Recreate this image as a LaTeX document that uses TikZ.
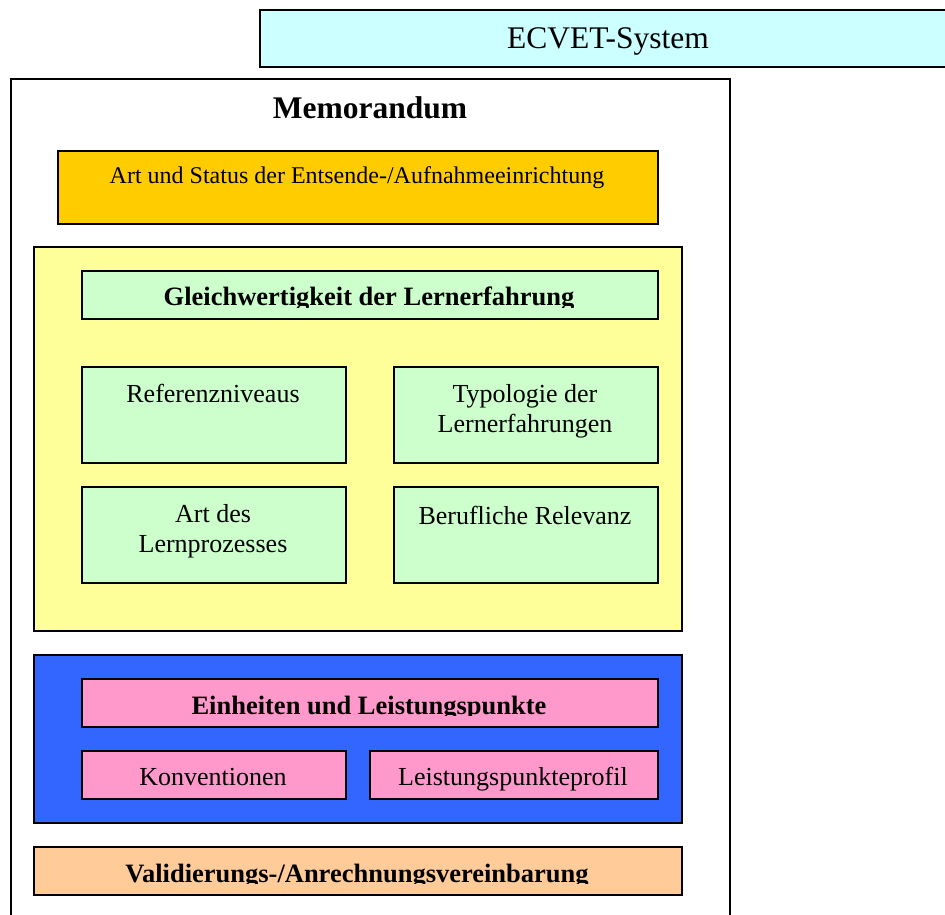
\documentclass[tikz,border=0pt]{standalone}
\usepackage{fontspec}
\setmainfont{Liberation Serif}
\definecolor{ecvetc}{HTML}{CCFFFF}
\definecolor{orangec}{HTML}{FFCC00}
\definecolor{yellowc}{HTML}{FFFF99}
\definecolor{greenc}{HTML}{CCFFCC}
\definecolor{bluec}{HTML}{3366FF}
\definecolor{pinkc}{HTML}{FF99CC}
\definecolor{peachc}{HTML}{FFCC99}
\begin{document}
\begin{tikzpicture}[x=1pt,y=-1pt,
  box/.style={draw=black, line width=1.8pt, inner sep=0pt, anchor=north west},
  txt/.style={inner sep=0pt, anchor=base, align=center, font=\fontsize{26}{30}\selectfont},
  btxt/.style={inner sep=0pt, anchor=base, font=\fontsize{26.5}{30}\selectfont\bfseries}]
\useasboundingbox (0,0) rectangle (945,914);
% top box
\node[box, fill=ecvetc, minimum width=700, minimum height=57] (ecvet) at (259,9) {};
\node[txt, font=\fontsize{31.5}{36}\selectfont] (tecvet) at (608,48) {ECVET-System};
% memorandum frame
\node[box, fill=white, minimum width=719, minimum height=860] (memo) at (10,78) {};
\node[btxt, font=\fontsize{31.5}{36}\selectfont\bfseries] (tmemo) at (370,118) {Memorandum};
% art und status
\node[box, fill=orangec, minimum width=600, minimum height=73] (status) at (57,150) {};
\node[txt, font=\fontsize{24}{28}\selectfont] (tstatus) at (357,183) {Art und Status der Entsende-/Aufnahmeeinrichtung};
% yellow group
\node[box, fill=yellowc, minimum width=648, minimum height=384] (gleich) at (33,246) {};
\node[box, fill=greenc, minimum width=576, minimum height=48] (gleichh) at (81,270) {};
\begin{scope}
  \clip (81,270) rectangle (657,307);
  \node[btxt] (tgleich) at (369,305) {Gleichwertigkeit der Lernerfahrung};
\end{scope}
\node[box, fill=greenc, minimum width=264, minimum height=96] (ref) at (81,366) {};
\node[txt] (tref) at (213,402) {Referenzniveaus};
\node[box, fill=greenc, minimum width=264, minimum height=96] (typ) at (393,366) {};
\node[txt] (ttyp) at (525,432) {Typologie der\\Lernerfahrungen};
\node[box, fill=greenc, minimum width=264, minimum height=96] (art) at (81,486) {};
\node[txt] (tart) at (213,552) {Art des\\Lernprozesses};
\node[box, fill=greenc, minimum width=264, minimum height=96] (beruf) at (393,486) {};
\node[txt] (tberuf) at (525,524) {Berufliche Relevanz};
% blue group
\node[box, fill=bluec, minimum width=648, minimum height=168] (einh) at (33,654) {};
\node[box, fill=pinkc, minimum width=576, minimum height=48] (einhh) at (81,678) {};
\begin{scope}
  \clip (81,678) rectangle (657,715.5);
  \node[btxt] (teinh) at (369,714) {Einheiten und Leistungspunkte};
\end{scope}
\node[box, fill=pinkc, minimum width=264, minimum height=48] (konv) at (81,750) {};
\node[txt] (tkonv) at (213,785) {Konventionen};
\node[box, fill=pinkc, minimum width=288, minimum height=48] (lpp) at (369,750) {};
\node[txt] (tlpp) at (513,785) {Leistungspunkteprofil};
% validation
\node[box, fill=peachc, minimum width=648, minimum height=48] (valid) at (33,846) {};
\begin{scope}
  \clip (33,846) rectangle (681,883.5);
  \node[btxt] (tvalid) at (357,882) {Validierungs-/Anrechnungsvereinbarung};
\end{scope}
\end{tikzpicture}
\end{document}
